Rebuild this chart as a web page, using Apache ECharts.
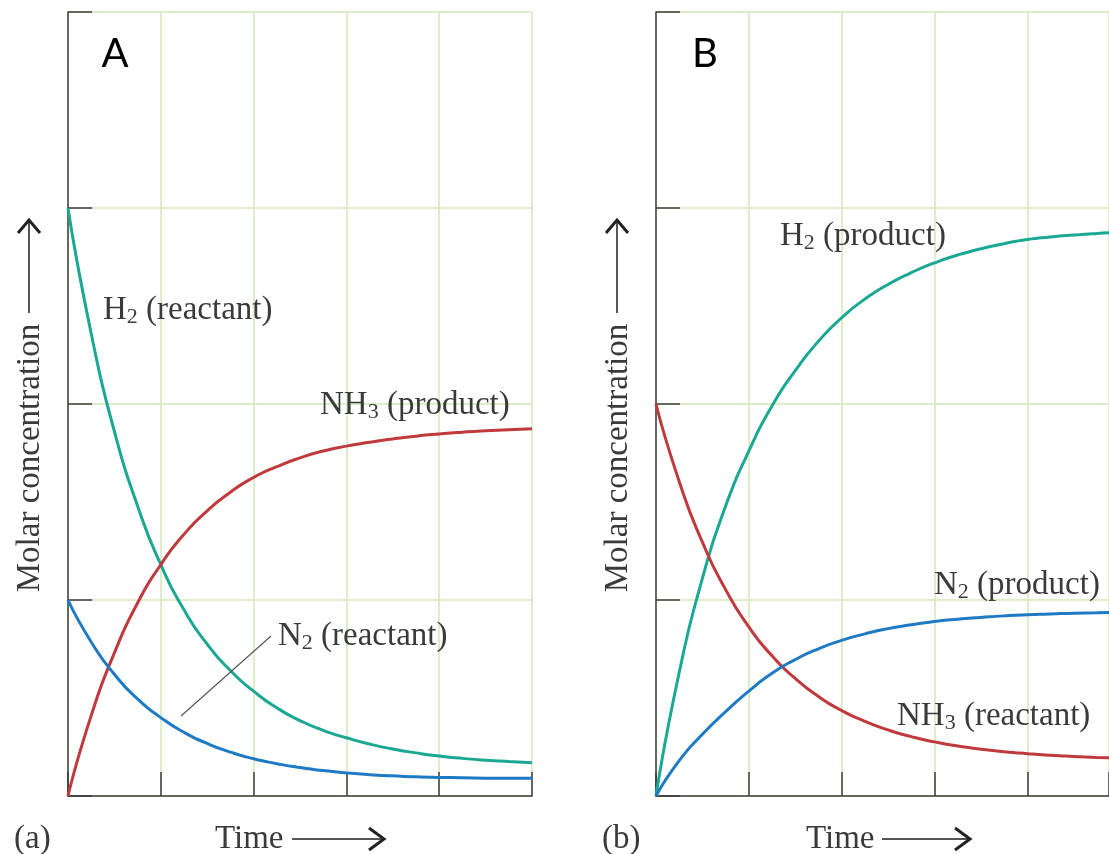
<!DOCTYPE html>
<html>
<head>
<meta charset="utf-8">
<script src="https://cdn.jsdelivr.net/npm/echarts@6/dist/echarts.min.js"></script>
<style>
  html, body { margin: 0; padding: 0; background: #fff; }
  #chart { width: 1109px; height: 854px; }
</style>
</head>
<body>
<div id="chart"></div>
<script>
// time values (grid units) shared by all curves
const times = [0, 0.25, 0.5, 0.75, 1, 1.25, 1.5, 1.75, 2, 2.25, 2.5, 2.75, 3, 3.25, 3.5, 3.75, 4, 4.25, 4.5, 4.75, 5];

// panel A: forward reaction
const aH2 = [3.00, 2.36, 1.86, 1.48, 1.18, 0.95, 0.775, 0.64, 0.535, 0.45, 0.385, 0.335, 0.297, 0.265, 0.24, 0.22, 0.204, 0.192, 0.183, 0.176, 0.17];
const aNH3 = [0, 0.41, 0.73, 0.985, 1.18, 1.335, 1.455, 1.55, 1.625, 1.68, 1.725, 1.76, 1.785, 1.805, 1.822, 1.836, 1.847, 1.856, 1.863, 1.869, 1.874];
const aN2 = [1.00, 0.786, 0.621, 0.495, 0.40, 0.325, 0.268, 0.224, 0.19, 0.165, 0.145, 0.13, 0.118, 0.109, 0.103, 0.098, 0.095, 0.093, 0.091, 0.09, 0.09];

// panel B: reverse reaction
const bH2 = [0, 0.63, 1.11, 1.48, 1.76, 1.99, 2.17, 2.32, 2.44, 2.535, 2.61, 2.67, 2.72, 2.76, 2.792, 2.818, 2.839, 2.852, 2.862, 2.87, 2.876];
const bNH3 = [2.00, 1.605, 1.295, 1.053, 0.863, 0.715, 0.60, 0.508, 0.436, 0.381, 0.337, 0.303, 0.276, 0.255, 0.239, 0.226, 0.216, 0.208, 0.202, 0.197, 0.193];
const bN2 = [0, 0.18, 0.315, 0.43, 0.535, 0.626, 0.696, 0.751, 0.794, 0.827, 0.854, 0.874, 0.89, 0.902, 0.911, 0.919, 0.925, 0.929, 0.933, 0.935, 0.938];

const xTicksA = { min: 0, max: 5, interval: 1 };
const xTicksB = { min: 0, max: 4.88, interval: 1 }; // panel B is cut off at the right edge
const yTicks = { min: 0, max: 4, interval: 1 };

const TEAL = "#1aa893";
const RED = "#c0393d";
const BLUE = "#1f7ac4";
const AXIS = "#3d3d3d";
const GRIDLINE = "#d3e8b9";
const SERIF = "'Liberation Serif', 'DejaVu Serif', serif";
const TXT = "#3a3a3a";
const FS = 33;

const pts = vals => vals.map((v, i) => [times[i], v]);

function xAxis(i, ticks) {
  return {
    gridIndex: i, type: "value", ...ticks,
    axisLine: { show: true, lineStyle: { color: AXIS, width: 1.5 } },
    axisTick: { show: true, inside: true, length: 24, lineStyle: { color: AXIS, width: 1.5 } },
    axisLabel: { show: false },
    splitLine: { show: true, lineStyle: { color: GRIDLINE, width: 1.5 } }
  };
}

function yAxis(i) {
  return {
    gridIndex: i, type: "value", ...yTicks,
    axisLine: { show: true, onZero: false, lineStyle: { color: AXIS, width: 1.5 } },
    axisTick: { show: true, inside: true, length: 24, lineStyle: { color: AXIS, width: 1.5 } },
    axisLabel: { show: false },
    splitLine: { show: true, lineStyle: { color: GRIDLINE, width: 1.5 } }
  };
}

function curve(i, name, vals, color) {
  return {
    name, type: "line", xAxisIndex: i, yAxisIndex: i,
    data: pts(vals), smooth: 0.6, showSymbol: false, clip: true,
    lineStyle: { color, width: 3 }, itemStyle: { color }
  };
}

const richStyles = {
  m: { fontFamily: SERIF, fontSize: FS, lineHeight: 36, fill: TXT, verticalAlign: "middle" },
  s: { fontFamily: SERIF, fontSize: 22, lineHeight: 20, fill: TXT, verticalAlign: "bottom" }
};

function chemLabel(x, y, base, sub, rest) {
  return {
    type: "text", x, y, z: 10,
    style: {
      text: `{m|${base}}{s|${sub}}{m|${rest}}`,
      rich: richStyles,
      textAlign: "left", textVerticalAlign: "middle"
    }
  };
}

function plainText(x, y, text) {
  return {
    type: "text", x, y, z: 10,
    style: { text, font: `${FS}px ${SERIF}`, fill: TXT, textAlign: "left", textVerticalAlign: "middle" }
  };
}

function yTitle(x) {
  return [
    { type: "text", x, y: 458, rotation: Math.PI / 2, z: 10,
      style: { text: "Molar concentration", font: `${FS}px ${SERIF}`, fill: TXT, textAlign: "center", textVerticalAlign: "middle" } },
    { type: "line", shape: { x1: x - 1, y1: 313, x2: x - 1, y2: 221 }, style: { stroke: "#555", lineWidth: 2 } },
    { type: "polyline", shape: { points: [[x - 12, 233], [x - 1, 220], [x + 10, 233]] }, style: { stroke: "#222", lineWidth: 3, fill: null } }
  ];
}

function xTitle(label, lx, tx, ax1, ax2) {
  return [
    plainText(lx, 839, label),
    plainText(tx, 839, "Time"),
    { type: "line", shape: { x1: ax1, y1: 839, x2: ax2, y2: 839 }, style: { stroke: "#555", lineWidth: 2 } },
    { type: "polyline", shape: { points: [[ax2 - 15, 828], [ax2, 839], [ax2 - 15, 850]] }, style: { stroke: "#222", lineWidth: 3, fill: null } }
  ];
}

const chart = echarts.init(document.getElementById("chart"));
chart.setOption({
  animation: false,
  backgroundColor: "#fff",
  grid: [
    { left: 68, top: 12, width: 464, height: 784 },
    { left: 656, top: 12, width: 453, height: 784 }
  ],
  xAxis: [xAxis(0, xTicksA), xAxis(1, xTicksB)],
  yAxis: [yAxis(0), yAxis(1)],
  series: [
    curve(0, "H2 (reactant)", aH2, TEAL),
    curve(0, "NH3 (product)", aNH3, RED),
    curve(0, "N2 (reactant)", aN2, BLUE),
    curve(1, "H2 (product)", bH2, TEAL),
    curve(1, "NH3 (reactant)", bNH3, RED),
    curve(1, "N2 (product)", bN2, BLUE)
  ],
  graphic: [
    { type: "text", x: 115, y: 54, z: 10, style: { text: "A", font: "40px Lato", fill: "#000", textAlign: "center", textVerticalAlign: "middle" } },
    { type: "text", x: 705, y: 54, z: 10, style: { text: "B", font: "40px Lato", fill: "#000", textAlign: "center", textVerticalAlign: "middle" } },
    chemLabel(103, 310, "H", "2", " (reactant)"),
    chemLabel(320, 405, "NH", "3", " (product)"),
    chemLabel(278, 636, "N", "2", " (reactant)"),
    { type: "line", z: 10, shape: { x1: 271, y1: 636, x2: 181, y2: 716 }, style: { stroke: "#555", lineWidth: 1.2 } },
    chemLabel(780, 236, "H", "2", " (product)"),
    chemLabel(934, 585, "N", "2", " (product)"),
    chemLabel(897, 716, "NH", "3", " (reactant)"),
    ...yTitle(30),
    ...yTitle(618),
    ...xTitle("(a)", 14, 215, 292, 384),
    ...xTitle("(b)", 602, 806, 882, 970)
  ]
});
</script>
</body>
</html>
